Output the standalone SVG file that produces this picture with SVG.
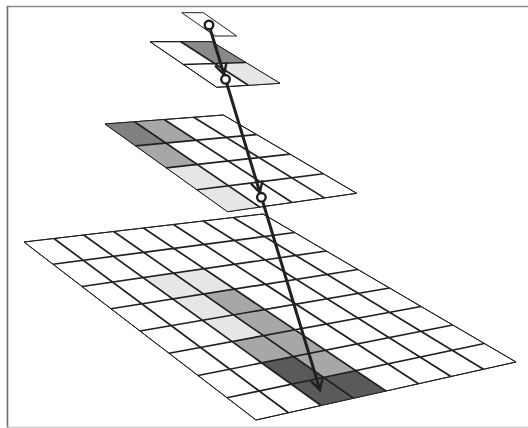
<svg xmlns="http://www.w3.org/2000/svg" width="528" height="428" viewBox="0 0 528 428">
<defs>
<style>
.outer{fill:#fff;stroke:#231f20;stroke-width:1}
.gl{stroke:#231f20;stroke-width:1.7;fill:none}
.L{fill:#e6e6e7}
.M{fill:#a7a7a8}
.D{fill:#5a5a5b}
.D2{fill:#808081}
.D3{fill:#8a8a8b}
.arr{stroke:#231f20;stroke-width:3;fill:none}
.ring{fill:#fff;stroke:#231f20;stroke-width:2.4}
</style>
<marker id="vh" markerUnits="userSpaceOnUse" viewBox="-13 -7 15 14" refX="0" refY="0" markerWidth="15" markerHeight="14" orient="auto">
<path d="M-11,-6 L0,0 L-11,6" fill="none" stroke="#231f20" stroke-width="2.4"/>
</marker>
</defs>
<rect width="528" height="428" fill="#fff"/>
<g id="frame">
<line x1="7" y1="6.5" x2="528" y2="6.5" stroke="#8a8a8a" stroke-width="1.6"/>
<line x1="7.5" y1="6" x2="7.5" y2="428" stroke="#6a6a6a" stroke-width="1.6"/>
<line x1="7" y1="427.2" x2="528" y2="427.2" stroke="#c8c8c8" stroke-width="1.2"/>
</g>
<g id="grid8">
<polygon class="outer" points="24,242 263,214 516,362 256,420"/>
<polygon class="L" points="143.06,277.63 173.59,273.19 203.58,294.03 172.72,298.94"/>
<polygon class="L" points="173.59,273.19 204.13,268.75 234.44,289.13 203.58,294.03"/>
<polygon class="L" points="172.72,298.94 203.58,294.03 233.56,314.88 202.38,320.25"/>
<polygon class="M" points="203.58,294.03 234.44,289.13 264.75,309.5 233.56,314.88"/>
<polygon class="L" points="202.38,320.25 233.56,314.88 263.55,335.72 232.03,341.56"/>
<polygon class="M" points="233.56,314.88 264.75,309.5 295.06,329.88 263.55,335.72"/>
<polygon class="M" points="232.03,341.56 263.55,335.72 293.53,356.56 261.69,362.88"/>
<polygon class="M" points="263.55,335.72 295.06,329.88 325.38,350.25 293.53,356.56"/>
<polygon class="D" points="261.69,362.88 293.53,356.56 323.52,377.41 291.34,384.19"/>
<polygon class="M" points="293.53,356.56 325.38,350.25 355.69,370.63 323.52,377.41"/>
<polygon class="D" points="291.34,384.19 323.52,377.41 353.5,398.25 321,405.5"/>
<polygon class="D" points="323.52,377.41 355.69,370.63 386,391 353.5,398.25"/>
<path class="gl" d="M53.88,238.5L288.5,412.75M83.75,235L321,405.5M113.63,231.5L353.5,398.25M143.5,228L386,391M173.38,224.5L418.5,383.75M203.25,221L451,376.5M233.13,217.5L483.5,369.25M53,264.25L294.63,232.5M82,286.5L326.25,251M111,308.75L357.88,269.5M140,331L389.5,288M169,353.25L421.13,306.5M198,375.5L452.75,325M227,397.75L484.38,343.5"/>
<polygon fill="none" stroke="#231f20" stroke-width="1" points="24,242 263,214 516,362 256,420"/>
</g>
<g id="grid4">
<polygon class="outer" points="105,124 223.3,115 356.7,193.3 227.5,211.7"/>
<polygon class="D2" points="105,124 134.58,121.75 165.88,143.09 135.63,145.93"/>
<polygon class="M" points="134.58,121.75 164.15,119.5 196.14,140.25 165.88,143.09"/>
<polygon class="M" points="135.63,145.93 165.88,143.09 197.19,164.43 166.25,167.85"/>
<polygon class="L" points="166.25,167.85 197.19,164.43 228.49,185.76 196.88,189.78"/>
<polygon class="L" points="196.88,189.78 228.49,185.76 259.8,207.1 227.5,211.7"/>
<path class="gl" d="M134.58,121.75L259.8,207.1M164.15,119.5L292.1,202.5M193.73,117.25L324.4,197.9M135.63,145.93L256.65,134.58M166.25,167.85L290,154.15M196.88,189.78L323.35,173.73"/>
<polygon fill="none" stroke="#231f20" stroke-width="1" points="105,124 223.3,115 356.7,193.3 227.5,211.7"/>
</g>
<g id="grid2">
<polygon class="outer" points="150,41.7 211.7,41.7 280,83.3 216.7,87.3"/>
<polygon class="D3" points="180.85,41.7 211.7,41.7 245.85,62.5 214.6,63.5"/>
<polygon class="L" points="214.6,63.5 245.85,62.5 280,83.3 248.35,85.3"/>
<path class="gl" d="M180.85,41.7L248.35,85.3M183.35,64.5L245.85,62.5"/>
<polygon fill="none" stroke="#231f20" stroke-width="1" points="150,41.7 211.7,41.7 280,83.3 216.7,87.3"/>
</g>
<g id="grid1">
<polygon class="outer" points="181.7,12.7 203.3,12.7 236.7,36 215,36"/>
</g>
<g id="connectors">
<line class="arr" x1="209" y1="25" x2="224" y2="74.5" marker-end="url(#vh)"/>
<line class="arr" x1="225.5" y1="79.3" x2="259.9" y2="192.5" marker-end="url(#vh)"/>
<line class="arr" x1="261.4" y1="197.3" x2="320" y2="390" marker-end="url(#vh)"/>
<circle class="ring" cx="209" cy="25" r="4.3"/>
<circle class="ring" cx="225.5" cy="79.3" r="4.3"/>
<circle class="ring" cx="261.4" cy="197.3" r="4.3"/>
</g>
</svg>
